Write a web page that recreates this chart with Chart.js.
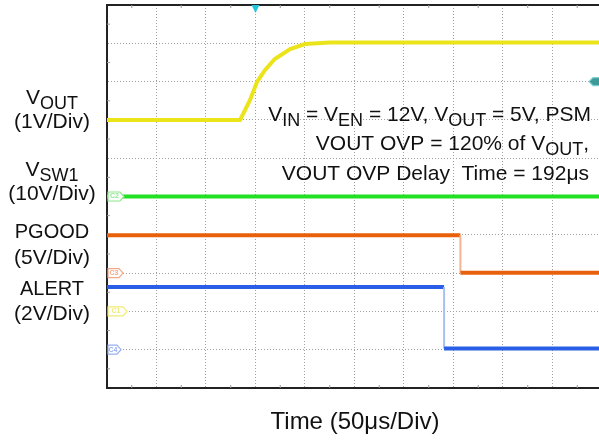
<!DOCTYPE html>
<html>
<head>
<meta charset="utf-8">
<script src="https://cdn.jsdelivr.net/npm/chart.js@4/dist/chart.umd.min.js"></script>
<style>
  html, body { margin: 0; padding: 0; background: #fff; }
  #chart { display: block; }
</style>
</head>
<body>
<canvas id="chart" width="599" height="441"></canvas>
<script>
// Time in divisions (50us/Div), level in divisions from the bottom of the screen
let voutTime = [0, 2.69, 2.89, 3.03, 3.19, 3.39, 3.70, 4.0, 4.5, 9.94]
let voutLevel = [7.0, 7.0, 7.52, 7.99, 8.30, 8.59, 8.85, 8.98, 9.02, 9.02]
let vswTime = [0, 9.94]
let vswLevel = [5.0, 5.0]
let pgoodTime = [0, 7.14, 7.14, 9.94]
let pgoodLevel = [3.99, 3.99, 3.01, 3.01]
let alertTime = [0, 6.81, 6.81, 9.94]
let alertLevel = [2.64, 2.64, 1.03, 1.03]
let xDivisions = [0, 1, 2, 3, 4, 5, 6, 7, 8, 9]
let yDivisions = [0, 1, 2, 3, 4, 5, 6, 7, 8, 9, 10]
let channelTags = [['C2', 5, '#8ee88e', 16], ['C3', 3, '#f4a888', 15], ['C1', 2, '#f0ec70', 19], ['C4', 1, '#98b0f0', 13]]
let triggerTime = 3.0
let triggerLevel = 8.0

function toPoints(xs, ys){
    return xs.map((x, i) => ({ x: x, y: ys[i] }))
}

function trace(label, xs, ys, color, edgeColor){
    return {
        label: label,
        data: toPoints(xs, ys),
        showLine: true,
        borderColor: color,
        borderWidth: 4,
        pointRadius: 0,
        tension: 0,
        segment: {
            borderColor: ctx => ctx.p0.parsed.x === ctx.p1.parsed.x ? edgeColor : undefined,
            borderWidth: ctx => ctx.p0.parsed.x === ctx.p1.parsed.x ? 2 : undefined
        }
    }
}

// Draw text with subscript parts: parts = [[text, isSub], ...]
function drawRich(ctx, parts, x, y, align, size){
    let subSize = Math.round(size * 0.88)
    let width = 0
    parts.forEach(p => {
        ctx.font = (p[1] ? subSize : size) + 'px "Liberation Sans", Arial, sans-serif'
        width += ctx.measureText(p[0]).width
    })
    let cx = align === 'right' ? x - width : (align === 'center' ? x - width / 2 : x)
    parts.forEach(p => {
        ctx.font = (p[1] ? subSize : size) + 'px "Liberation Sans", Arial, sans-serif'
        ctx.fillText(p[0], cx, p[1] ? y + size * 0.25 : y)
        cx += ctx.measureText(p[0]).width
    })
}

const scopePlugin = {
    id: 'scope',
    afterDraw(chart){
        const ctx = chart.ctx
        const area = chart.chartArea
        const xs = chart.scales.x
        const ys = chart.scales.y
        ctx.save()
        // top border
        ctx.strokeStyle = '#222'
        ctx.lineWidth = 2
        ctx.beginPath()
        ctx.moveTo(area.left - 1, area.top)
        ctx.lineTo(area.right, area.top)
        ctx.stroke()
        // half-division marks on the borders
        ctx.strokeStyle = '#999'
        ctx.lineWidth = 1
        for(let i = 0.5 ; i < 10 ; i += 1){
            let px = xs.getPixelForValue(i)
            ctx.beginPath(); ctx.moveTo(px, area.top); ctx.lineTo(px, area.top + 3); ctx.stroke()
            ctx.beginPath(); ctx.moveTo(px, area.bottom); ctx.lineTo(px, area.bottom - 3); ctx.stroke()
            let py = ys.getPixelForValue(i)
            ctx.beginPath(); ctx.moveTo(area.left, py); ctx.lineTo(area.left + 3, py); ctx.stroke()
        }
        // channel tags
        channelTags.forEach(t => {
            let py = ys.getPixelForValue(t[1])
            let l = area.left + 1
            let w = t[3]
            ctx.fillStyle = '#fff'
            ctx.strokeStyle = t[2]
            ctx.lineWidth = 1.2
            ctx.beginPath()
            ctx.moveTo(l, py - 4.5)
            ctx.lineTo(l + w - 4, py - 4.5)
            ctx.lineTo(l + w, py)
            ctx.lineTo(l + w - 4, py + 4.5)
            ctx.lineTo(l, py + 4.5)
            ctx.closePath()
            ctx.fill()
            ctx.stroke()
            ctx.fillStyle = t[2]
            ctx.font = 'bold 7px "Liberation Sans", Arial, sans-serif'
            ctx.textAlign = 'center'
            ctx.textBaseline = 'middle'
            ctx.fillText(t[0], l + (w - 3) / 2, py)
        })
        // trigger position marker
        let tx = xs.getPixelForValue(triggerTime)
        ctx.fillStyle = '#22c6dc'
        ctx.beginPath()
        ctx.moveTo(tx - 4, area.top)
        ctx.lineTo(tx + 4, area.top)
        ctx.lineTo(tx, area.top + 8)
        ctx.closePath()
        ctx.fill()
        // trigger level marker
        let ty = ys.getPixelForValue(triggerLevel)
        ctx.fillStyle = '#3c9a98'
        ctx.strokeStyle = '#7fd0d0'
        ctx.beginPath()
        ctx.moveTo(area.right - 10, ty)
        ctx.lineTo(area.right - 6, ty - 4)
        ctx.lineTo(area.right + 1, ty - 4)
        ctx.lineTo(area.right + 1, ty + 4)
        ctx.lineTo(area.right - 6, ty + 4)
        ctx.closePath()
        ctx.fill()
        ctx.stroke()
        // texts
        ctx.fillStyle = '#111'
        ctx.textAlign = 'left'
        ctx.textBaseline = 'alphabetic'
        drawRich(ctx, [['V', false], ['IN', true], [' = V', false], ['EN', true], [' = 12V, V', false], ['OUT', true], [' = 5V, PSM', false]], 591, 121, 'right', 21)
        drawRich(ctx, [['VOUT OVP = 120% of V', false], ['OUT', true], [',', false]], 589, 150, 'right', 21)
        drawRich(ctx, [['VOUT OVP Delay  Time = 192\u03bcs', false]], 589, 180, 'right', 21)
        drawRich(ctx, [['V', false], ['OUT', true]], 52, 104, 'center', 21)
        drawRich(ctx, [['(1V/Div)', false]], 52, 128, 'center', 21)
        drawRich(ctx, [['V', false], ['SW1', true]], 52, 176, 'center', 21)
        drawRich(ctx, [['(10V/Div)', false]], 52, 200, 'center', 21)
        drawRich(ctx, [['PGOOD', false]], 52, 238, 'center', 20)
        drawRich(ctx, [['(5V/Div)', false]], 52, 264, 'center', 21)
        drawRich(ctx, [['ALERT', false]], 52, 295, 'center', 20)
        drawRich(ctx, [['(2V/Div)', false]], 52, 320, 'center', 21)
        drawRich(ctx, [['Time (50\u03bcs/Div)', false]], 355, 429, 'center', 24)
        ctx.restore()
    }
}

const config = {
    type: 'scatter',
    data: {
        datasets: [
            trace('VOUT', voutTime, voutLevel, '#ece41a', '#ece41a'),
            trace('VSW1', vswTime, vswLevel, '#22e022', '#22e022'),
            trace('PGOOD', pgoodTime, pgoodLevel, '#e8600c', '#f4b494'),
            trace('ALERT', alertTime, alertLevel, '#2a5ee6', '#a8bff6')
        ]
    },
    options: {
        responsive: false,
        animation: false,
        layout: { padding: { left: 107, top: 5, right: 0, bottom: 53 } },
        plugins: { legend: { display: false }, tooltip: { enabled: false } },
        scales: {
            x: {
                type: 'linear', min: 0, max: 9.94,
                afterBuildTicks: scale => { scale.ticks = xDivisions.map(v => ({ value: v })) },
                ticks: { display: false },
                grid: { color: '#a0a0a0', lineWidth: 1, drawTicks: false },
                border: { display: true, color: '#222', width: 2, dash: [1, 2] }
            },
            y: {
                type: 'linear', min: 0, max: 10,
                afterBuildTicks: scale => { scale.ticks = yDivisions.map(v => ({ value: v })) },
                ticks: { display: false },
                grid: { color: '#a0a0a0', lineWidth: 1, drawTicks: false },
                border: { display: true, color: '#222', width: 2, dash: [1, 2] }
            }
        }
    },
    plugins: [scopePlugin]
}

let myChart = new Chart(document.getElementById('chart'), config)
</script>
</body>
</html>
